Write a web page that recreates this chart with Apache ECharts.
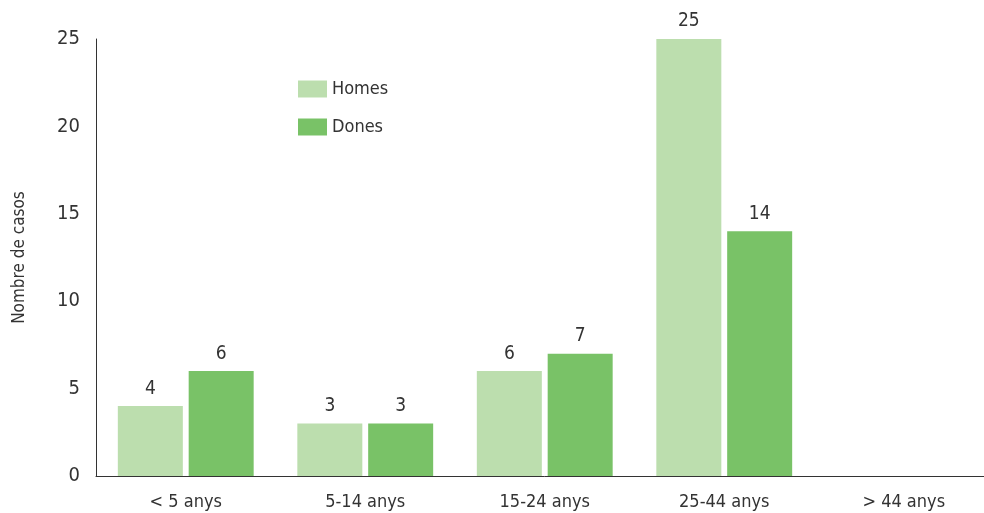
<!DOCTYPE html>
<html><head><meta charset="utf-8">
<script src="https://cdn.jsdelivr.net/npm/echarts@6/dist/echarts.min.js"></script>
<style>html,body{margin:0;padding:0;background:#fff;overflow:hidden}#c{width:994px;height:513px}</style>
</head><body><div id="c"></div>
<script>
const categories = ['< 5 anys', '5-14 anys', '15-24 anys', '25-44 anys', '> 44 anys'];
const homes = [4, 3, 6, 25, 0];
const dones = [6, 3, 7, 14, 0];
const yTicks = [0, 5, 10, 15, 20, 25];
const seriesNames = ['Homes', 'Dones'];

const FONT = '"DejaVu Sans Condensed", "Liberation Sans Narrow", "Roboto", sans-serif';
const chart = echarts.init(document.getElementById('c'));
const lbl = {show: true, position: 'top', distance: 8, color: '#333', fontSize: 19, fontFamily: FONT,
  formatter: p => p.value === 0 ? '' : p.value};
chart.setOption({
  animation: false,
  textStyle: {fontFamily: FONT},
  legend: {orient: 'vertical', left: 293, top: 75, itemWidth: 29, itemHeight: 17, itemGap: 20,
    textStyle: {fontSize: 18, color: '#333', fontFamily: FONT}, icon: 'rect', data: seriesNames},
  grid: {left: 96, top: 39, bottom: 37, width: 897.5, containLabel: false},
  xAxis: {type: 'category', data: categories,
    axisLine: {lineStyle: {color: '#333', width: 1}}, axisTick: {show: false},
    axisLabel: {fontSize: 18, color: '#333', margin: 17, fontFamily: FONT}},
  yAxis: {type: 'value', min: yTicks[0], max: yTicks[yTicks.length - 1], interval: 5,
    name: 'Nombre de casos', nameLocation: 'middle', nameGap: 68, nameRotate: 90,
    nameTextStyle: {fontSize: 17, color: '#333', fontFamily: FONT},
    axisLine: {show: true, lineStyle: {color: '#333', width: 1}}, axisTick: {show: false},
    splitLine: {show: false},
    axisLabel: {fontSize: 20, color: '#333', margin: 16, fontFamily: FONT}},
  series: [
    {name: seriesNames[0], type: 'bar', data: homes, barWidth: 65, barGap: '9%',
      itemStyle: {color: '#bcdeae'}, label: lbl},
    {name: seriesNames[1], type: 'bar', data: dones, barWidth: 65,
      itemStyle: {color: '#79c267'}, label: lbl}
  ]
});
</script></body></html>
